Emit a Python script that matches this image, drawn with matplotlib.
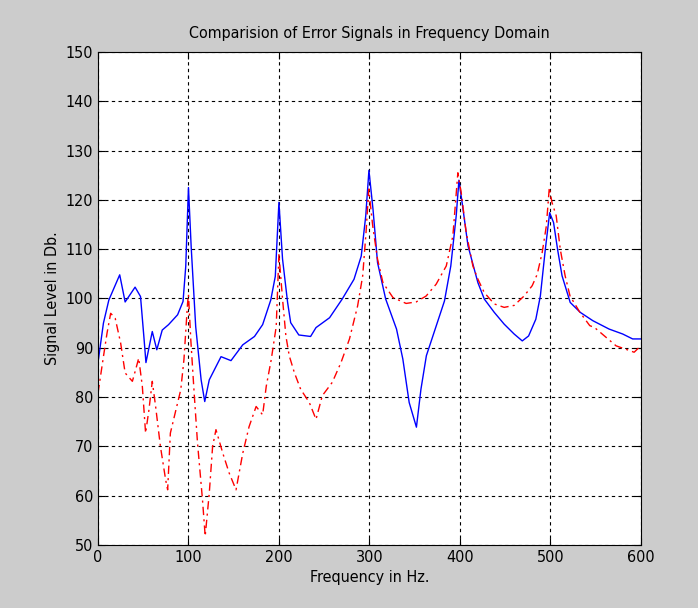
import matplotlib
matplotlib.use("Agg")
import matplotlib.pyplot as plt

# frequency (Hz) / level (dB)
freq_a = [0, 6, 12, 24, 30, 41, 47, 51, 53, 60, 65, 71, 78, 88, 94, 97, 100, 103,
          108, 114, 118, 123, 136, 147, 160, 173, 182, 191, 196, 200, 204, 209.6,
          213, 222, 235, 241, 256, 270, 283, 291, 296, 299.5, 304, 309, 318, 330,
          337, 344, 352, 357, 363, 374, 383, 390, 396, 399, 403, 409, 416, 420,
          427, 438, 449, 460, 469, 476, 484, 489, 494.5, 499.3, 503.6, 508, 513,
          522, 533, 547, 565, 580, 591, 600]
level_a = [87, 95, 99.7, 104.8, 99.3, 102.3, 100.4, 91.6, 87, 93.3, 89.6, 93.6, 94.7,
           96.7, 99.4, 106.5, 122.5, 110.5, 94.3, 83.5, 79.1, 83.5, 88.2, 87.4, 90.6,
           92.3, 94.7, 99.7, 104.5, 119.5, 108, 99.2, 95.1, 92.6, 92.3, 94.1, 96.1,
           99.9, 103.9, 108.6, 116.8, 126, 118.1, 107.3, 99.9, 93.8, 87.7, 78.9, 73.9,
           81.6, 88.4, 94.5, 99.5, 106.6, 116.8, 124, 118.8, 110.7, 105.9, 103.2,
           99.9, 97.2, 94.8, 92.8, 91.4, 92.4, 95.8, 100.5, 110, 117.4, 115.4, 110,
           104.6, 99.2, 97.2, 95.5, 93.8, 92.8, 91.8, 91.8]

freq_b = [0, 6, 10, 14, 19, 25, 30, 38, 41.5, 45, 49, 52.6, 56.3, 60, 63.7, 69, 74.8,
          77, 80, 86, 91.5, 95, 99, 100, 102.6, 106.3, 110, 115.5, 118.5, 123,
          126.7, 130.4, 138, 145, 152.6, 160, 167, 174.8, 182, 186, 191.5, 197, 200,
          204, 207.7, 211.4, 217, 224, 233.6, 241, 248, 259, 268.6, 278, 287, 292.6,
          296.3, 299.3, 303.7, 309, 315, 326, 340.6, 351.7, 362.7, 373.8, 385, 392.3,
          397.8, 401.5, 407, 414.4, 420, 427, 438, 449, 460, 471, 480, 485.5, 491,
          495.6, 498.9, 501.8, 506.5, 511, 516.4, 521.8, 532.7, 543.6, 549, 561.8,
          572.7, 583.6, 592.7, 600]
level_b = [80.8, 88.2, 93, 97, 96, 91, 84.9, 83.2, 85.5, 87.9, 82.2, 72.7, 77.4, 83.2,
           78.1, 70, 63.2, 61.2, 72.7, 77.3, 81.5, 87.6, 99, 100.8, 91.6, 80.8, 70.7,
           59.2, 51.8, 60.5, 70, 73.4, 68.6, 64.6, 61.2, 68.6, 74, 78.1, 76.4, 82.2,
           87.6, 94.3, 109, 99.9, 92.4, 88.4, 85, 81.6, 78.9, 75.5, 80.3, 83, 87, 91.8,
           98.5, 104.6, 113.4, 122.2, 114.7, 108, 103.2, 100.2, 99, 99.3, 100.5, 102.9,
           106.6, 112.7, 125.5, 121.5, 113.4, 106.6, 103.9, 101.2, 98.9, 98.2, 98.6,
           100.5, 102.6, 104.9, 109.3, 114.7, 122.5, 119.5, 116.8, 110, 104.6, 100.5,
           97.2, 94.5, 94.1, 92.1, 90.4, 89.7, 89.1, 90.4]

x_ticks = [0, 100, 200, 300, 400, 500, 600]
y_ticks = [50, 60, 70, 80, 90, 100, 110, 120, 130, 140, 150]

# narrow face, close to the old MATLAB screen font
plt.rcParams['font.family'] = ['DejaVu Sans']
plt.rcParams['font.stretch'] = 'condensed'

fig = plt.figure(figsize=(6.98, 6.08), dpi=100, facecolor='#cccccc')
ax = fig.add_axes([0.1404, 0.1036, 0.7776, 0.8109])
ax.set_facecolor('white')

ax.plot(freq_a, level_a, color='blue', linewidth=1.0, linestyle='-')
ax.plot(freq_b, level_b, color='red', linewidth=1.0, linestyle=(0, (6, 3, 1.5, 3)))

ax.set_xlim(0, 600)
ax.set_ylim(50, 150)
ax.set_xticks(x_ticks)
ax.set_yticks(y_ticks)
ax.grid(True, color='black', linestyle=(0, (3, 3)), linewidth=0.8)
ax.tick_params(direction='in', top=True, right=True, length=5, labelsize=11.5,
               colors='black')
for s in ax.spines.values():
    s.set_color('black')
    s.set_linewidth(0.8)

ax.set_title('Comparision of Error Signals in Frequency Domain', fontsize=11.5, pad=10)
ax.set_xlabel('Frequency in Hz.', fontsize=11.5)
ax.set_ylabel('Signal Level in Db.', fontsize=11.5)

fig.savefig('out.png', dpi=100, facecolor=fig.get_facecolor())
